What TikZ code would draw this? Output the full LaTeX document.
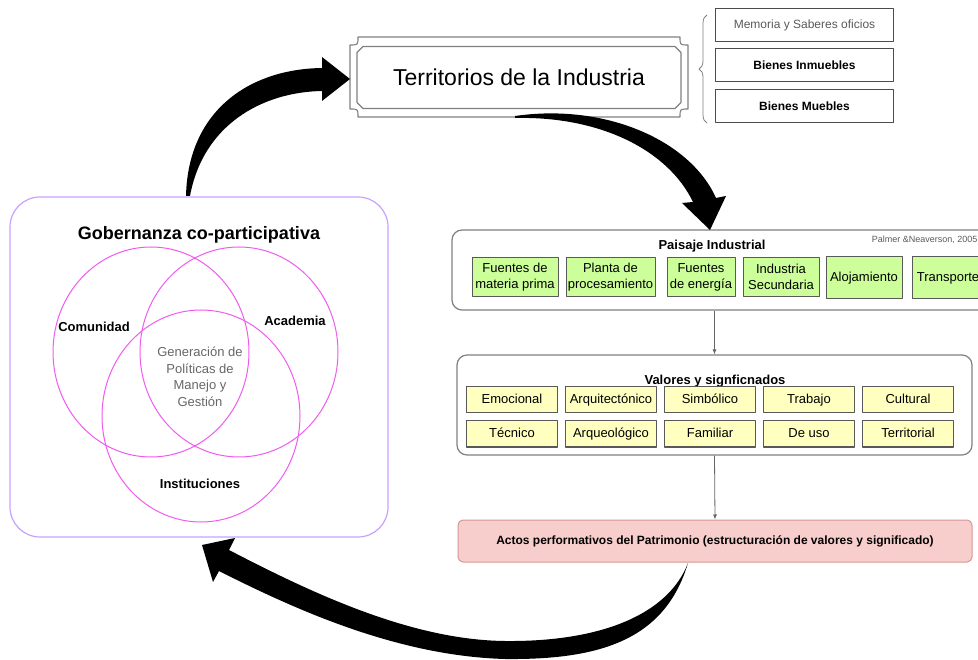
\documentclass[tikz,border=0pt]{standalone}
\usepackage{fontspec}
\setmainfont{Liberation Sans}
\usetikzlibrary{shapes.misc,decorations.pathreplacing,arrows.meta}
\definecolor{paisgreen}{RGB}{204,255,153}
\definecolor{valyellow}{RGB}{255,255,192}
\definecolor{actpink}{RGB}{248,206,204}
\definecolor{actred}{RGB}{215,150,150}
\definecolor{gobviolet}{RGB}{200,160,255}
\definecolor{vennpink}{RGB}{240,90,240}
\begin{document}
\begin{tikzpicture}[x=1pt,y=-1pt,line join=round,
	frame/.style={draw=gray,line width=1.1pt},
	sidebox/.style={draw=black!70,line width=0.8pt,minimum width=178pt,minimum height=33pt,inner sep=0pt,font=\fontsize{12}{14}\selectfont},
	bigbox/.style={draw=gray,line width=1.2pt,rounded corners=10pt,inner sep=0pt},
	paisbox/.style={draw=black!65,fill=paisgreen,line width=1pt,minimum height=39pt,inner sep=0pt,align=center,font=\fontsize{13}{16}\selectfont},
	valbox/.style={draw=black!65,fill=valyellow,line width=1pt,minimum width=91pt,minimum height=26pt,inner sep=0pt,text height=9.5pt,text depth=3pt,font=\fontsize{13}{15}\selectfont},
	venn/.style={draw=vennpink,line width=1pt},
	lbl/.style={font=\fontsize{13}{15}\selectfont\bfseries},
	flow/.style={draw=black!60,line width=0.8pt,-{Latex[length=5pt,width=4pt]}},
	fat/.style={fill=black}]
	\useasboundingbox (0,0) rectangle (978,660) ;
	% Territorios de la Industria
	\draw[frame] (358,37)--(680,37) .. controls (680,45) .. (688,45)--(688,109) .. controls (680,109) .. (680,117)--(358,117) .. controls (358,109) .. (350,109)--(350,45) .. controls (358,45) .. (358,37)--cycle ;
	\node[chamfered rectangle,chamfered rectangle xsep=3pt,chamfered rectangle ysep=3pt,draw=gray,line width=1.1pt,minimum width=324pt,minimum height=62pt,inner sep=0pt,font=\fontsize{23}{26}\selectfont] (terr) at (519,77.5) {Territorios de la Industria} ;
	\node[sidebox,text=black!65] (mem) at (804.5,25) {Memoria y Saberes oficios} ;
	\node[sidebox,font=\fontsize{12}{14}\selectfont\bfseries] (inm) at (804.5,65) {Bienes Inmuebles} ;
	\node[sidebox,font=\fontsize{12}{14}\selectfont\bfseries] (mue) at (804.5,106) {Bienes Muebles} ;
	\draw[gray,line width=0.8pt,decorate,decoration={brace,amplitude=8pt}] (707,123)--(707,15) ;
	% Gobernanza co-participativa
	\node[draw=gobviolet,line width=1.2pt,rounded corners=30pt,minimum width=378pt,minimum height=340pt] (gob) at (199,367) {} ;
	\node[font=\fontsize{18}{20}\selectfont\bfseries] (gobtit) at (199,235) {Gobernanza co-participativa} ;
	\coordinate (cC) at (151,352) ;
	\coordinate (cA) at (239,352) ;
	\coordinate (cI) at (201,416) ;
	\draw[venn] (cC) ellipse [x radius=98pt,y radius=105pt] ;
	\draw[venn] (cA) ellipse [x radius=99pt,y radius=105pt] ;
	\draw[venn] (cI) ellipse [x radius=99pt,y radius=106pt] ;
	\node[lbl] (comu) at (94,327) {Comunidad} ;
	\node[lbl] (acad) at (295,321) {Academia} ;
	\node[lbl] (inst) at (200,484) {Instituciones} ;
	\node[align=center,text=black!60,font=\fontsize{13}{16.5}\selectfont] (gen) at (200,377) {Generación de\\Políticas de\\Manejo y\\Gestión} ;
	% Paisaje Industrial
	\node[bigbox,minimum width=538pt,minimum height=80pt] (pais) at (721,270) {} ;
	\node[font=\fontsize{13}{15}\selectfont\bfseries] (paistit) at (712,246) {Paisaje Industrial} ;
	\node[anchor=east,text=black!65,font=\fontsize{9}{11}\selectfont] (palmer) at (981,240) {Palmer \&Neaverson, 2005} ;
	\node[paisbox,minimum width=86pt] (pais1) at (515,277) {Fuentes de\\materia prima} ;
	\node[paisbox,minimum width=89pt] (pais2) at (610.5,277) {Planta de\\procesamiento} ;
	\node[paisbox,minimum width=68pt] (pais3) at (701,277) {Fuentes\\de energía} ;
	\node[paisbox,minimum width=76pt] (pais4) at (781,277) {Industria\\Secundaria} ;
	\node[paisbox,minimum width=76pt,minimum height=42pt] (pais5) at (864,278) {Alojamiento} ;
	\node[paisbox,minimum width=72pt,minimum height=42pt] (pais6) at (948,278) {Transporte} ;
	% Valores y signficnados
	\node[bigbox,minimum width=515pt,minimum height=100pt] (val) at (714.5,405) {} ;
	\node[font=\fontsize{13}{15}\selectfont\bfseries] (valtit) at (715,381) {Valores y signficnados} ;
	\foreach \t [count=\i] in {Emocional,Arquitectónico,Simbólico,Trabajo,Cultural}
		\node[valbox] (val\i) at (413+99*\i,400) {\t} ;
	\foreach \t [count=\i] in {Técnico,Arqueológico,Familiar,De uso,Territorial}
		\node[valbox] (valb\i) at (413+99*\i,434) {\t} ;
	% Actos performativos
	\node[draw=actred,fill=actpink,line width=1pt,rounded corners=5pt,minimum width=514pt,minimum height=42pt,font=\fontsize{12}{14}\selectfont\bfseries] (actos) at (715,541) {Actos performativos del Patrimonio (estructuración de valores y significado)} ;
	\draw[flow] (val.north |- pais.south)--(val.north) ;
	\draw[flow] (val.south)--(actos.north) ;
	% fat arrows
	\fill[fat] (186,196) .. controls (188,110) and (250,69) .. (322,68)--(322,57)--(350,79)--(322,101)--(322,91) .. controls (262,92) and (203,125) .. (190,196)--cycle ;
	\fill[fat] (515,116) .. controls (605,103) and (690,140) .. (716,198)--(726,196)--(710,230)--(682,203)--(693,202) .. controls (668,150) and (600,116) .. (515,118)--cycle ;
	\fill[fat] (688,563) .. controls (665,640) and (600,660) .. (505,659) .. controls (400,656) and (300,612) .. (219,571)--(213,582)--(202,545)--(235,538)--(229,550) .. controls (310,592) and (410,640) .. (505,641) .. controls (600,642) and (668,615) .. (688,563)--cycle ;
\end{tikzpicture}
\end{document}
